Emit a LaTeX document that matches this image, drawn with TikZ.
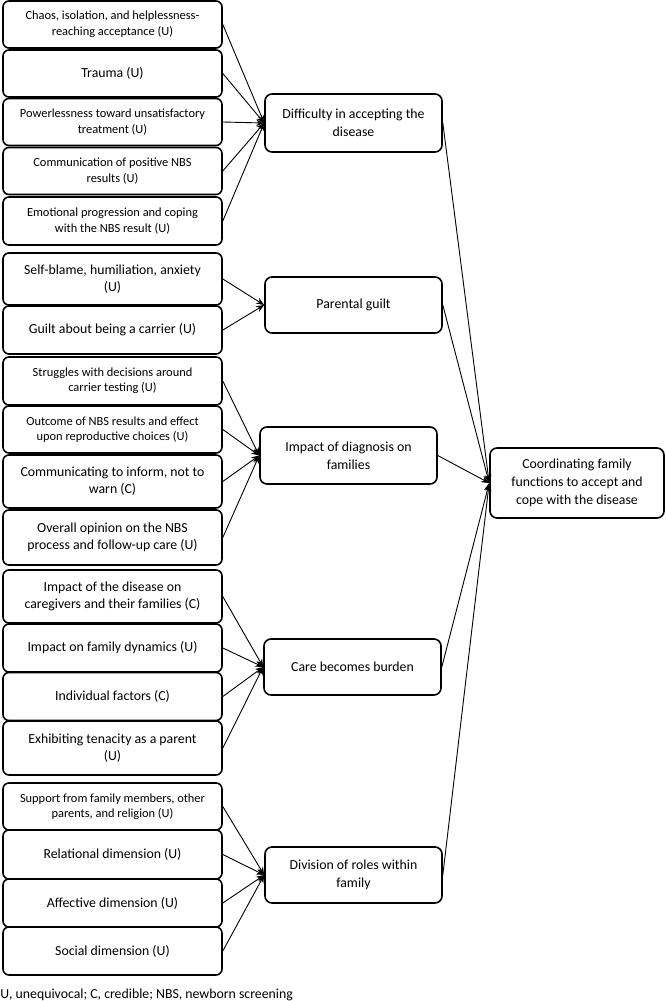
\documentclass[tikz,border=0pt]{standalone}
\usepackage{fontspec}
\setmainfont{Carlito}
\usetikzlibrary{arrows.meta,positioning}

\newcommand{\smtxt}{\fontsize{12.4}{15.5}\selectfont}
\newcommand{\lgtxt}{\fontsize{13.8}{17}\selectfont}
\newcommand{\thtxt}{\fontsize{13.8}{17.7}\selectfont}

\begin{document}
\begin{tikzpicture}[ ->, >={Stealth[length=8pt,width=6.5pt]}, x=1pt, y=-1pt
                   , line width=0.9pt
                   , sub/.style={draw, -, rounded corners=6pt, line width=1.6pt, align=center,
                                 minimum width=219pt, minimum height=47pt, inner sep=2pt, font=\lgtxt}
                   , subsm/.style={sub, font=\smtxt}
                   , theme/.style={draw, -, rounded corners=7pt, line width=1.6pt, align=center,
                                   minimum width=177pt, minimum height=57pt, inner sep=2pt, font=\thtxt}
                   ]

      \useasboundingbox (0,0) rectangle (666,1001);

      % subthemes, left column
      \node (chaos) [subsm] at (112.5,24.5) {Chaos, isolation, and helplessness-\\reaching acceptance (U)};
      \node (trauma) [sub] at (112.5,73.5) {Trauma (U)};
      \node (power) [subsm] at (112.5,122) {Powerlessness toward unsatisfactory\\treatment (U)};
      \node (commnbs) [subsm] at (112.5,171) {Communication of positive NBS\\results (U)};
      \node (emot) [subsm, minimum height=48pt] at (112.5,221) {Emotional progression and coping\\with the NBS result (U)};

      \node (blame) [sub, minimum height=52pt] at (112.5,279) {Self-blame, humiliation, anxiety\\(U)};
      \node (carrier) [sub, minimum height=48pt] at (112.5,330) {Guilt about being a carrier (U)};

      \node (strug) [subsm, minimum height=48pt] at (112.5,381) {Struggles with decisions around\\carrier testing (U)};
      \node (outc) [subsm] at (112.5,429.5) {Outcome of NBS results and effect\\upon reproductive choices (U)};
      \node (inform) [sub, minimum height=53pt] at (112.5,481.5) {Communicating to inform, not to\\warn (C)};
      \node (opin) [sub, minimum height=55pt] at (112.5,537.5) {Overall opinion on the NBS\\process and follow-up care (U)};

      \node (caregiv) [sub, minimum height=53pt] at (112.5,596.5) {Impact of the disease on\\caregivers and their families (C)};
      \node (dynam) [sub, minimum height=48pt] at (112.5,648) {Impact on family dynamics (U)};
      \node (indiv) [sub, minimum height=48pt] at (112.5,696.5) {Individual factors (C)};
      \node (tenac) [sub, minimum height=54pt] at (112.5,748) {Exhibiting tenacity as a parent\\(U)};

      \node (support) [subsm] at (112.5,806.5) {Support from family members, other\\parents, and religion (U)};
      \node (relat) [sub, minimum height=49pt] at (112.5,854.5) {Relational dimension (U)};
      \node (affect) [sub, minimum height=48pt] at (112.5,903) {Affective dimension (U)};
      \node (social) [sub, minimum height=48pt] at (112.5,951) {Social dimension (U)};

      % themes, middle column
      \node (accept) [theme, minimum height=58pt] at (353.5,123) {Difficulty in accepting the\\disease};
      \node (guilt) [theme, minimum height=56pt] at (353.5,305) {Parental guilt};
      \node (impact) [theme] at (348.5,455.5) {Impact of diagnosis on\\families};
      \node (burden) [theme, minimum height=56pt] at (352.5,667) {Care becomes burden};
      \node (roles) [theme, minimum height=56pt] at (353.5,875) {Division of roles within\\family};

      % main theme
      \node (coord) [theme, minimum width=174pt, minimum height=70pt] at (577,483)
            {Coordinating family\\functions to accept and\\cope with the disease};

      \node (note) [anchor=west, inner sep=0pt, font=\lgtxt] at (0,995)
            {U, unequivocal; C, credible; NBS, newborn screening};

      \foreach \s in {chaos,trauma,power,commnbs,emot}
         \draw (\s.east) -- (accept.west);
      \foreach \s in {blame,carrier}
         \draw (\s.east) -- (guilt.west);
      \foreach \s in {strug,outc,inform,opin}
         \draw (\s.east) -- (impact.west);
      \foreach \s in {caregiv,dynam,indiv,tenac}
         \draw (\s.east) -- (burden.west);
      \foreach \s in {support,relat,affect,social}
         \draw (\s.east) -- (roles.west);

      \foreach \t in {accept,guilt,impact,burden,roles}
         \draw (\t.east) -- (coord.west);

  \end{tikzpicture}
\end{document}
